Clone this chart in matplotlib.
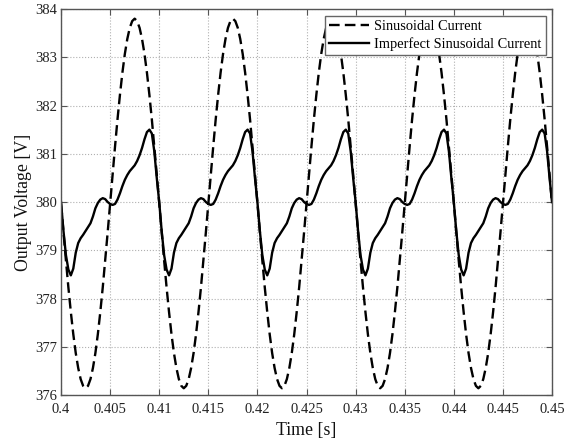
import numpy as np
from matplotlib import pyplot as plt

# Every period in the plot looks the same, so the period is repeated.
PERIOD_OFFSETS_MS = [
    0.0, 0.25, 0.5, 0.75, 1.0, 1.25, 1.5, 1.75, 2.0, 2.25,
    2.5, 2.75, 3.0, 3.25, 3.5, 3.75, 4.0, 4.25, 4.5, 4.75,
    5.0, 5.25, 5.5, 5.75, 6.0, 6.25, 6.5, 6.75, 7.0, 7.25,
    7.5, 7.75, 8.0, 8.25, 8.5, 8.75, 9.0, 9.25, 9.5, 9.75,
]

sinusoidal_current = [
    379.97, 379.37, 378.79, 378.23, 377.72, 377.26, 376.87, 376.56, 376.33, 376.19,
    376.14, 376.19, 376.33, 376.56, 376.87, 377.26, 377.72, 378.23, 378.79, 379.37,
    379.97, 380.57, 381.15, 381.71, 382.22, 382.68, 383.07, 383.38, 383.61, 383.75,
    383.80, 383.75, 383.61, 383.38, 383.07, 382.68, 382.22, 381.71, 381.15, 380.57,
]

imperfect_current = [
    380.00, 379.40, 378.90, 378.60, 378.48, 378.62, 378.95, 379.15, 379.25, 379.32,
    379.40, 379.48, 379.56, 379.70, 379.87, 379.98, 380.05, 380.08, 380.06, 380.00,
    379.96, 379.94, 379.96, 380.05, 380.18, 380.33, 380.46, 380.56, 380.64, 380.70,
    380.76, 380.85, 380.97, 381.12, 381.30, 381.45, 381.50, 381.42, 381.05, 380.50,
]

T_START = 0.4
N_PERIODS = 5
PERIOD = 0.01

x_ticks = [0.4, 0.405, 0.41, 0.415, 0.42, 0.425, 0.43, 0.435, 0.44, 0.445, 0.45]
x_tick_labels = ["0.4", "0.405", "0.41", "0.415", "0.42", "0.425", "0.43", "0.435", "0.44", "0.445", "0.45"]
y_ticks = [376, 377, 378, 379, 380, 381, 382, 383, 384]

# build the time axis and repeat the read period
offsets = np.array(PERIOD_OFFSETS_MS) / 1000.0
t = np.concatenate([T_START + k * PERIOD + offsets for k in range(N_PERIODS)])
t = np.append(t, T_START + N_PERIODS * PERIOD)
sin_v = np.append(np.tile(sinusoidal_current, N_PERIODS), sinusoidal_current[0])
imp_v = np.append(np.tile(imperfect_current, N_PERIODS), imperfect_current[0])

plt.rcParams["font.family"] = ["Liberation Serif", "DejaVu Serif"]

fig = plt.figure(figsize=(5.74, 4.42), dpi=100)
ax = fig.add_axes([0.1063, 0.1063, 0.8554, 0.8733])

ax.plot(t, sin_v, color="black", linewidth=1.7, linestyle=(0, (4.5, 2.2)), label="Sinusoidal Current")
ax.plot(t, imp_v, color="black", linewidth=1.7, label="Imperfect Sinusoidal Current")

ax.set_xlim(0.4, 0.45)
ax.set_ylim(376, 384)
ax.set_xticks(x_ticks)
ax.set_xticklabels(x_tick_labels)
ax.set_yticks(y_ticks)

ax.grid(True, linestyle=":", color="#b0b0b0", linewidth=0.8)
ax.tick_params(direction="in", top=True, right=True, length=4, width=0.8,
               labelsize=10.5, colors="#555555", labelcolor="#222222")
ax.tick_params(axis="x", pad=6)
ax.tick_params(axis="y", pad=3)
for spine in ax.spines.values():
    spine.set_color("#555555")
    spine.set_linewidth(1.0)

ax.set_xlabel("Time [s]", fontsize=12.8, color="#111111", labelpad=4)
ax.set_ylabel("Output Voltage [V]", fontsize=12.8, color="#111111", labelpad=2)

leg = ax.legend(loc="upper right", fontsize=10.4, fancybox=False, framealpha=1,
                edgecolor="#666666", handlelength=2.8, handletextpad=0.3,
                labelspacing=0.3, borderpad=0.3, borderaxespad=0.45)
leg.get_frame().set_linewidth(1.0)

fig.savefig("out.png", dpi=100)
